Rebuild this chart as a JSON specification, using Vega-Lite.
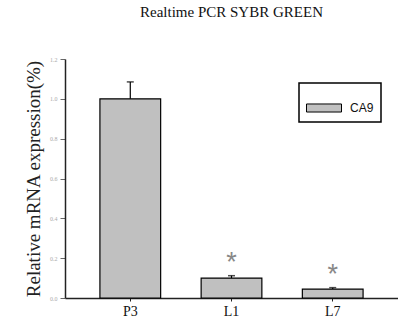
{
  "$schema": "https://vega.github.io/schema/vega-lite/v6.json",
  "width": 333,
  "height": 239,
  "autosize": {"type": "none"},
  "padding": {"left": 65, "top": 59, "right": 0, "bottom": 26},
  "background": "white",
  "title": {"text": "Realtime PCR SYBR GREEN", "anchor": "middle", "font": "Liberation Serif", "fontSize": 15, "fontWeight": "normal", "color": "#111", "offset": 35},
  "data": {"values": [
    {"group": "P3", "value": 1.0, "upper": 1.085, "gene": "CA9", "sig": ""},
    {"group": "L1", "value": 0.1, "upper": 0.112, "gene": "CA9", "sig": "*"},
    {"group": "L7", "value": 0.045, "upper": 0.052, "gene": "CA9", "sig": "*"}
  ]},
  "encoding": {
    "x": {"field": "group", "type": "nominal", "sort": null,
      "scale": {"paddingInner": 0.4, "paddingOuter": 0.345},
      "axis": {"title": null, "labelAngle": 0, "labelFont": "Liberation Serif", "labelFontSize": 14, "labelColor": "#111", "tickSize": 3, "tickColor": "#222", "domainColor": "#222", "domainWidth": 1.5, "labelPadding": 3}}
  },
  "layer": [
    {
      "mark": {"type": "bar", "stroke": "black", "strokeWidth": 1.2},
      "encoding": {
        "y": {"field": "value", "type": "quantitative",
          "scale": {"domain": [0, 1.2], "nice": false},
          "axis": {"title": "Relative mRNA expression(%)", "values": [0, 0.2, 0.4, 0.6, 0.8, 1.0, 1.2]}},
        "color": {"field": "gene", "type": "nominal", "scale": {"range": ["#c0c0c0"]},
          "legend": {"title": null, "orient": "none", "legendX": 234, "legendY": 24, "strokeColor": "black", "padding": 7,
            "symbolType": "M-1,-0.23H1V0.23H-1Z", "symbolSize": 1225, "symbolStrokeColor": "black", "symbolStrokeWidth": 1, "symbolOpacity": 1,
            "labelFont": "Liberation Sans", "labelFontSize": 12, "labelColor": "#111", "labelOffset": 8}}
      }
    },
    {
      "mark": {"type": "rule", "color": "black", "strokeWidth": 1.2},
      "encoding": {"y": {"field": "value", "type": "quantitative", "axis": {"title": "Relative mRNA expression(%)", "values": [0, 0.2, 0.4, 0.6, 0.8, 1.0, 1.2]}}, "y2": {"field": "upper"}}
    },
    {
      "mark": {"type": "tick", "color": "black", "thickness": 1.5, "size": 7, "orient": "horizontal"},
      "encoding": {"y": {"field": "upper", "type": "quantitative", "axis": {"title": "Relative mRNA expression(%)", "values": [0, 0.2, 0.4, 0.6, 0.8, 1.0, 1.2]}}}
    },
    {
      "mark": {"type": "text", "fontSize": 27, "font": "Liberation Sans", "color": "#888", "baseline": "middle", "dy": -13},
      "encoding": {"y": {"field": "upper", "type": "quantitative", "axis": {"title": "Relative mRNA expression(%)", "values": [0, 0.2, 0.4, 0.6, 0.8, 1.0, 1.2]}}, "text": {"field": "sig"}}
    }
  ],
  "config": {
    "view": {"stroke": null},
    "legend": {"strokeWidth": 1.5},
    "axisY": {"titleFont": "Liberation Serif", "titleFontSize": 19, "titleFontWeight": "normal", "titleColor": "#222", "titlePadding": 6,
      "format": ".1f", "labelOverlap": false, "labelFont": "Liberation Serif", "labelFontSize": 6, "labelColor": "#aaa", "tickSize": 5, "tickColor": "#666", "domainColor": "#222", "domainWidth": 1.5, "grid": false, "labelPadding": 3}
  }
}
